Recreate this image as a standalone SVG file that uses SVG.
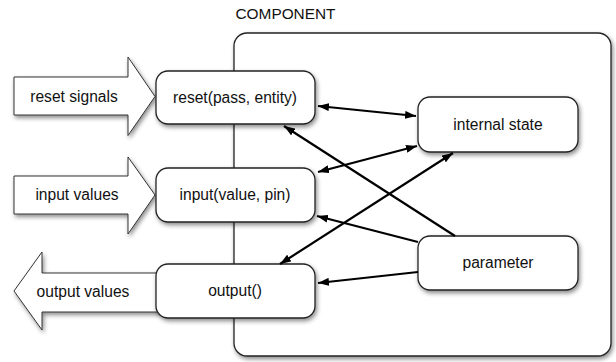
<svg xmlns="http://www.w3.org/2000/svg" width="616" height="362" viewBox="0 0 616 362">
<defs>
<filter id="sh" x="-10%" y="-10%" width="130%" height="140%">
<feDropShadow dx="1.5" dy="2.5" stdDeviation="2" flood-color="#000" flood-opacity="0.45"/>
</filter>
<marker id="ah" viewBox="0 0 11 8" refX="11" refY="4" markerWidth="11" markerHeight="8" markerUnits="userSpaceOnUse" orient="auto-start-reverse">
<path d="M0,0 L11,4 L0,8 z" fill="#000"/>
</marker>
</defs>
<style>
.box{fill:#fff;stroke:#222;stroke-width:1.3;filter:url(#sh)}
.blk{fill:#fff;stroke:#333;stroke-width:1;filter:url(#sh)}
.t{font-family:"Liberation Sans",Arial,sans-serif;font-size:15.6px;fill:#111;text-anchor:middle}
.c{stroke:#000;stroke-width:2.2;fill:none}
.one{marker-end:url(#ah)}
.two{marker-start:url(#ah);marker-end:url(#ah)}
</style>
<rect width="616" height="362" fill="#fff"/>
<g id="component">
<rect class="box" x="234" y="33" width="377" height="323" rx="13"/>
<text class="t" x="285.5" y="19" style="font-size:15.4px">COMPONENT</text>
</g>
<g id="reset-signals">
<path class="blk" d="M14,77 L128,77 L128,57 L155,96.5 L128,135.5 L128,115 L14,115 z"/>
<text class="t" x="74" y="102">reset signals</text>
</g>
<g id="input-values">
<path class="blk" d="M14,176 L128,176 L128,157 L155,195 L128,234 L128,214 L14,214 z"/>
<text class="t" x="77" y="200">input values</text>
</g>
<g id="output-values">
<path class="blk" d="M160,273 L42,273 L42,252 L14,291 L42,330 L42,312 L160,312 z"/>
<text class="t" x="83" y="297">output values</text>
</g>
<g id="reset">
<rect class="box" x="156" y="71" width="159" height="53" rx="12"/>
<text class="t" x="235" y="103">reset(pass, entity)</text>
</g>
<g id="input">
<rect class="box" x="156" y="168" width="159" height="54" rx="12"/>
<text class="t" x="235" y="200">input(value, pin)</text>
</g>
<g id="output">
<rect class="box" x="156" y="264" width="159" height="54" rx="12"/>
<text class="t" x="235" y="296">output()</text>
</g>
<g id="internal-state">
<rect class="box" x="418" y="97" width="160" height="55" rx="12"/>
<text class="t" x="498" y="130">internal state</text>
</g>
<g id="parameter">
<rect class="box" x="418" y="236" width="160" height="54" rx="12"/>
<text class="t" x="498" y="268">parameter</text>
</g>
<g id="connectors">
<line class="c two" x1="318" y1="106" x2="416" y2="116"/>
<line class="c two" x1="417" y1="146" x2="318" y2="172"/>
<line class="c two" x1="280" y1="264" x2="453" y2="153"/>
<line class="c one" x1="455" y1="236" x2="284" y2="126"/>
<line class="c one" x1="418" y1="242" x2="317" y2="216"/>
<line class="c one" x1="418" y1="272" x2="318" y2="283"/>
</g>
</svg>
